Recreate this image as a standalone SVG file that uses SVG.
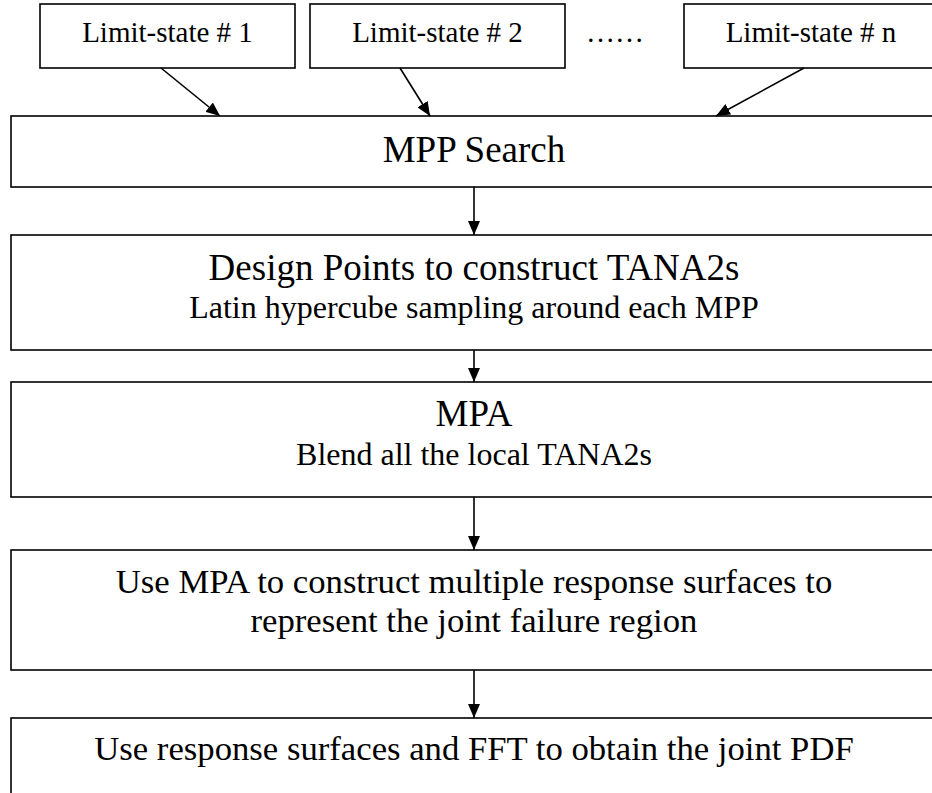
<svg xmlns="http://www.w3.org/2000/svg" width="932" height="793" viewBox="0 0 932 793">
  <defs>
    <marker id="arrow" markerUnits="userSpaceOnUse" markerWidth="14" markerHeight="12" refX="14" refY="6" orient="auto">
      <path d="M0,0 L14,6 L0,12 Z" fill="#000"/>
    </marker>
  </defs>
  <style>
    .box { fill: #fff; stroke: #000; stroke-width: 1.6; }
    text { fill: #000; text-anchor: middle; }
    .edge { stroke: #000; stroke-width: 1.6; fill: none; marker-end: url(#arrow); }
  </style>
  <rect width="932" height="793" fill="#fff"/>

  <g font-family="Liberation Serif, DejaVu Serif, serif">
  <!-- limit-state inputs -->
  <g id="ls1">
    <rect class="box" x="40" y="4" width="255" height="64"/>
    <text x="167.5" y="42" font-size="29">Limit-state # 1</text>
  </g>
  <g id="ls2">
    <rect class="box" x="310" y="4" width="255" height="64"/>
    <text x="437.5" y="42" font-size="29">Limit-state # 2</text>
  </g>
  <g id="ellipsis">
    <text x="615" y="42" font-size="29">……</text>
  </g>
  <g id="lsn">
    <rect class="box" x="684" y="4" width="260" height="64"/>
    <text x="811" y="42" font-size="29">Limit-state # n</text>
  </g>

  <!-- process steps -->
  <g id="mpp">
    <rect class="box" x="11" y="116" width="935" height="71"/>
    <text x="474" y="162" font-size="37">MPP Search</text>
  </g>
  <g id="design">
    <rect class="box" x="11" y="235" width="935" height="115"/>
    <text x="474" y="280" font-size="37">Design Points to construct TANA2s</text>
    <text x="474" y="318" font-size="32">Latin hypercube sampling around each MPP</text>
  </g>
  <g id="mpa">
    <rect class="box" x="11" y="382" width="935" height="115"/>
    <text x="474" y="426" font-size="37">MPA</text>
    <text x="474" y="465" font-size="32">Blend all the local TANA2s</text>
  </g>
  <g id="surfaces">
    <rect class="box" x="11" y="550" width="935" height="120"/>
    <text x="474" y="593" font-size="34.7">Use MPA to construct multiple response surfaces to</text>
    <text x="474" y="632" font-size="34.7">represent the joint failure region</text>
  </g>
  <g id="pdf">
    <rect class="box" x="11" y="718" width="935" height="100"/>
    <text x="474" y="760" font-size="34.7">Use response surfaces and FFT to obtain the joint PDF</text>
  </g>
  </g>

  <!-- connectors -->
  <g id="connectors">
    <line class="edge" x1="161" y1="68" x2="220" y2="116"/>
    <line class="edge" x1="400" y1="68" x2="430" y2="116"/>
    <line class="edge" x1="804" y1="68" x2="716" y2="116"/>
    <line class="edge" x1="474" y1="187" x2="474" y2="235"/>
    <line class="edge" x1="474" y1="350" x2="474" y2="382"/>
    <line class="edge" x1="474" y1="497" x2="474" y2="550"/>
    <line class="edge" x1="474" y1="670" x2="474" y2="718"/>
  </g>
</svg>
